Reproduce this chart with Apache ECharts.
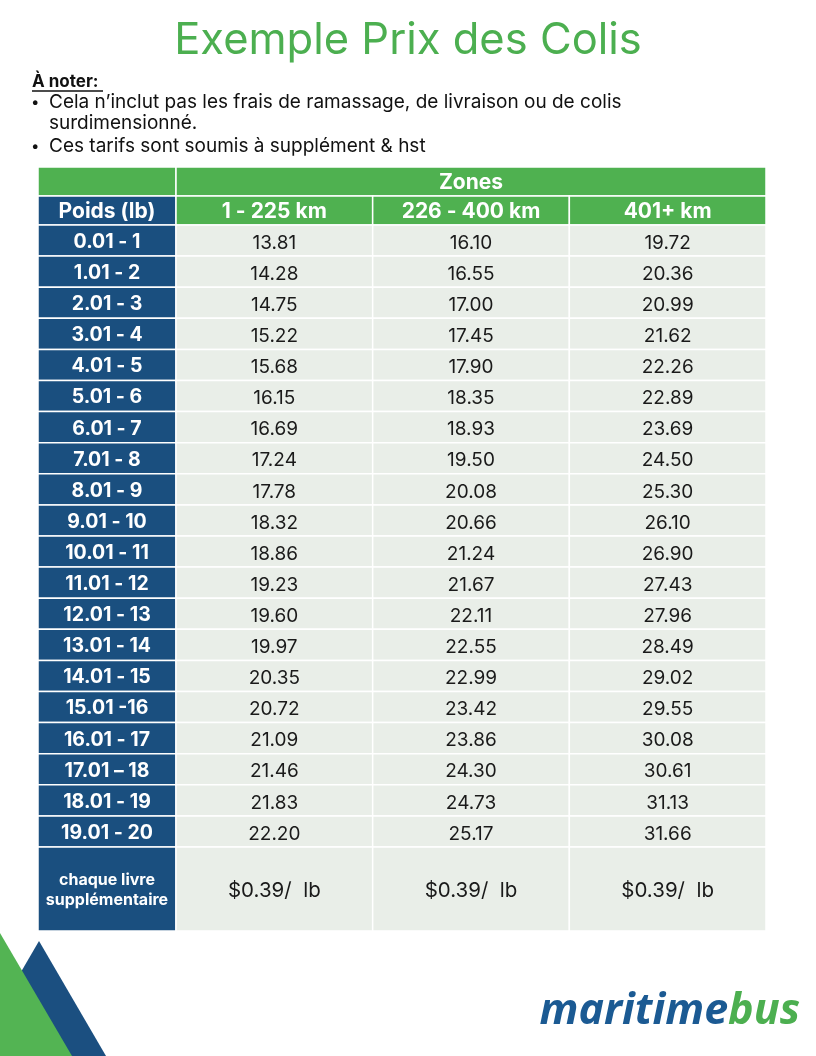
<!DOCTYPE html>
<html>
<head>
<meta charset="utf-8">
<script src="https://cdn.jsdelivr.net/npm/echarts@6/dist/echarts.min.js"></script>
<style>
html,body{margin:0;padding:0;background:#fff;}
#chart{width:816px;height:1056px;}
</style>
</head>
<body>
<div id="chart"></div>
<script>
// ---------- DATA ----------
const titleText = 'Exemple Prix des Colis';
const noteHeading = 'À noter:';
const notes = [
  'Cela n\u2019inclut pas les frais de ramassage, de livraison ou de colis',
  'surdimensionné.',
  'Ces tarifs sont soumis à supplément & hst'
];
const groupHeader = 'Zones';
const weightHeader = 'Poids (lb)';
const zones = ['1 - 225 km', '226 - 400 km', '401+ km'];
const weightRanges = ['0.01 - 1','1.01 - 2','2.01 - 3','3.01 - 4','4.01 - 5','5.01 - 6','6.01 - 7','7.01 - 8','8.01 - 9','9.01 - 10','10.01 - 11','11.01 - 12','12.01 - 13','13.01 - 14','14.01 - 15','15.01 -16','16.01 - 17','17.01 \u2013 18','18.01 - 19','19.01 - 20'];
const zone1 = [13.81,14.28,14.75,15.22,15.68,16.15,16.69,17.24,17.78,18.32,18.86,19.23,19.60,19.97,20.35,20.72,21.09,21.46,21.83,22.20];
const zone2 = [16.10,16.55,17.00,17.45,17.90,18.35,18.93,19.50,20.08,20.66,21.24,21.67,22.11,22.55,22.99,23.42,23.86,24.30,24.73,25.17];
const zone3 = [19.72,20.36,20.99,21.62,22.26,22.89,23.69,24.50,25.30,26.10,26.90,27.43,27.96,28.49,29.02,29.55,30.08,30.61,31.13,31.66];
const extraLabel = 'chaque livre\nsupplémentaire';
const extraRate = [0.39, 0.39, 0.39];
const logoParts = ['maritime', 'bus'];

// ---------- STYLE ----------
const GREEN = '#4fb150';
const BLUE = '#1a4f7f';
const GRAY = '#e9eee8';
const FONT = 'Inter, "Noto Sans", sans-serif';
const zoneValues = [zone1, zone2, zone3];

function cellRenderer(opts) {
  return function (params, api) {
    const col = api.value(0), row = api.value(1);
    const c = api.coord([col, row]);
    const s = api.size([1, 1]);
    let x0 = c[0] - s[0] / 2, w = s[0];
    if (opts.span && opts.span(params.dataIndex)) {
      const a = api.coord([0, row]), b = api.coord([opts.spanCount - 1, row]);
      x0 = a[0] - s[0] / 2; w = b[0] - a[0] + s[0];
    }
    const y0 = c[1] - s[1] / 2, h = s[1];
    const fill = typeof opts.fill === 'function' ? opts.fill(params.dataIndex) : opts.fill;
    const txt = opts.text(params.dataIndex);
    return {
      type: 'group',
      children: [
        { type: 'rect', shape: { x: x0, y: y0, width: w, height: h },
          style: { fill: fill, stroke: '#ffffff', lineWidth: 1.5 } },
        { type: 'text', style: {
            x: x0 + w / 2, y: y0 + h / 2 + (opts.dy || 0), text: txt,
            align: 'center', verticalAlign: 'middle',
            fill: opts.color, fontSize: opts.fontSize, fontWeight: opts.fontWeight,
            fontFamily: FONT, lineHeight: opts.lineHeight || undefined } }
      ]
    };
  };
}

const grids = [
  { left: 38, top: 167, width: 138, height: 58 },
  { left: 176, top: 167, width: 590, height: 58 },
  { left: 38, top: 225, width: 138, height: 622 },
  { left: 176, top: 225, width: 590, height: 622 },
  { left: 38, top: 847, width: 138, height: 84 },
  { left: 176, top: 847, width: 590, height: 84 }
];
const labelCol = ['label'];
const xAxes = [
  { gridIndex: 0, type: 'category', data: labelCol, show: false },
  { gridIndex: 1, type: 'category', data: zones, show: false },
  { gridIndex: 2, type: 'category', data: labelCol, show: false },
  { gridIndex: 3, type: 'category', data: zones, show: false },
  { gridIndex: 4, type: 'category', data: labelCol, show: false },
  { gridIndex: 5, type: 'category', data: zones, show: false }
];
const headRows = ['group', 'zone'];
const yAxes = [
  { gridIndex: 0, type: 'category', data: headRows, inverse: true, show: false },
  { gridIndex: 1, type: 'category', data: headRows, inverse: true, show: false },
  { gridIndex: 2, type: 'category', data: weightRanges, inverse: true, show: false },
  { gridIndex: 3, type: 'category', data: weightRanges, inverse: true, show: false },
  { gridIndex: 4, type: 'category', data: ['extra'], inverse: true, show: false },
  { gridIndex: 5, type: 'category', data: ['extra'], inverse: true, show: false }
];

const s0data = [[0, 0], [0, 1]];
const s0text = ['', weightHeader];
const s1data = [[1, 0]].concat(zones.map((z, j) => [j, 1]));
const s1text = [groupHeader].concat(zones);
const s2data = weightRanges.map((w, i) => [0, i]);
const s3data = [], s3text = [];
zoneValues.forEach((arr, j) => arr.forEach((v, i) => { s3data.push([j, i, v]); s3text.push(v.toFixed(2)); }));
const s5data = extraRate.map((r, j) => [j, 0, r]);

const series = [
  { type: 'custom', xAxisIndex: 0, yAxisIndex: 0, data: s0data, silent: true,
    renderItem: cellRenderer({ fill: i => i === 0 ? GREEN : BLUE, text: i => s0text[i], color: '#fff', fontSize: 21, fontWeight: 'bold', dy: 1.5 }) },
  { type: 'custom', xAxisIndex: 1, yAxisIndex: 1, data: s1data, silent: true,
    renderItem: cellRenderer({ fill: GREEN, text: i => s1text[i], color: '#fff', fontSize: 21, fontWeight: 'bold', span: i => i === 0, spanCount: 3, dy: 1.5 }) },
  { type: 'custom', xAxisIndex: 2, yAxisIndex: 2, data: s2data, silent: true,
    renderItem: cellRenderer({ fill: BLUE, text: i => weightRanges[i], color: '#fff', fontSize: 19.5, fontWeight: 'bold', dy: 1.5 }) },
  { type: 'custom', xAxisIndex: 3, yAxisIndex: 3, data: s3data, silent: true,
    renderItem: cellRenderer({ fill: GRAY, text: i => s3text[i], color: '#1a1a1a', fontSize: 19, fontWeight: 'normal', dy: 2.5 }) },
  { type: 'custom', xAxisIndex: 4, yAxisIndex: 4, data: [[0, 0]], silent: true,
    renderItem: cellRenderer({ fill: BLUE, text: i => extraLabel, color: '#fff', fontSize: 16, fontWeight: 'bold', lineHeight: 20, dy: 1 }) },
  { type: 'custom', xAxisIndex: 5, yAxisIndex: 5, data: s5data, silent: true,
    renderItem: cellRenderer({ fill: GRAY, text: i => '$' + extraRate[i].toFixed(2) + '/  lb', color: '#1a1a1a', fontSize: 20.5, fontWeight: 'normal', dy: 1.5 }) }
];

const noteStyle = { fontSize: 19, color: '#111', fontFamily: FONT, fontWeight: 'normal' };
const chart = echarts.init(document.getElementById('chart'), null, { renderer: 'canvas' });
chart.setOption({
  backgroundColor: '#ffffff',
  animation: false,
  title: [
    { text: titleText, left: 'center', top: 19, padding: 0,
      textStyle: { color: '#4caf50', fontSize: 43.5, fontWeight: 'normal', fontFamily: FONT } },
    { text: noteHeading, left: 32, top: 73, padding: 0,
      textStyle: { color: '#111', fontSize: 17, fontWeight: 'bold', fontFamily: FONT } },
    { text: '{b|\u2022}{t|' + notes[0] + '}', left: 31, top: 93, padding: 0,
      textStyle: { rich: { b: Object.assign({ width: 18 }, noteStyle, { fontSize: 15 }), t: noteStyle } } },
    { text: notes[1], left: 49, top: 114, padding: 0,
      textStyle: noteStyle },
    { text: '{b|\u2022}{t|' + notes[2] + '}', left: 31, top: 137, padding: 0,
      textStyle: { rich: { b: Object.assign({ width: 18 }, noteStyle, { fontSize: 15 }), t: noteStyle } } },
    { text: '{a|' + logoParts[0] + '}{b|' + logoParts[1] + '}', right: 16, top: 990, padding: 0,
      textStyle: { rich: {
        a: { color: '#1b5a93', fontSize: 43, fontWeight: 'bold', fontStyle: 'italic', fontFamily: '"Open Sans", sans-serif' },
        b: { color: '#4caf50', fontSize: 43, fontWeight: 'bold', fontStyle: 'italic', fontFamily: '"Open Sans", sans-serif' } } } }
  ],
  graphic: [
    { type: 'line', shape: { x1: 32, y1: 91, x2: 103, y2: 91 }, style: { stroke: '#111', lineWidth: 1.3 } },
    { type: 'polygon', shape: { points: [[39, 941], [106, 1056], [-28, 1056]] }, style: { fill: '#1b4f80' } },
    { type: 'polygon', shape: { points: [[0, 933], [72, 1056], [0, 1056]] }, style: { fill: '#53b453' } }
  ],
  grid: grids,
  xAxis: xAxes,
  yAxis: yAxes,
  series: series
});
</script>
</body>
</html>
